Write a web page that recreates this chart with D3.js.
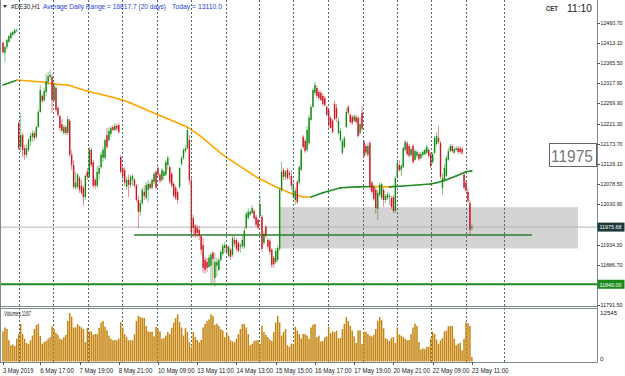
<!DOCTYPE html>
<html><head><meta charset="utf-8">
<script src="https://cdn.jsdelivr.net/npm/d3@7"></script>
<style>body{margin:0;background:#fff}svg{display:block}text{font-family:"Liberation Sans",Arial,sans-serif}</style>
</head><body><svg id="c" width="625" height="376"></svg>
<script>
// ---- data ----
const symbol = "#DE30,H1";
const adrText = "Average Daily Range = 16817.7 (20 days)";
const todayText = "Today = 13110.0";
const lastPrice = 11975.68;
const supportPrice = 11840.00;
const levelPrice = 11957;
const levelFromBar = 66.8, levelToBar = 269.6;
const zoneTop = 12023, zoneBottom = 11925, zoneFromBar = 141.2, zoneToBar = 293.1;
const boxLabel = "11975";
const priceTicks = [12460.70,12413.10,12365.50,12317.90,12269.90,12221.30,12173.70,12126.10,12078.50,12030.90,11981.80,11934.30,11886.70,11791.50];
const timeLabels = [["3 May 2019",0],["6 May 17:00",19],["7 May 19:00",39],["8 May 21:00",59],["10 May 09:00",79],["13 May 11:00",99],["14 May 13:00",119],["15 May 15:00",139],["16 May 17:00",159],["17 May 19:00",179],["20 May 21:00",199],["22 May 09:00",219],["23 May 11:00",239]];
const gridBars = [8.15,25.5,43.3,60.7,78.5,95.8,113.7,130.5,147.8,165.6,183.5,200.8,218.1,236,255.3];
const volMax = 12545, volNow = 1167;
const ohlc = [
[12413,12417,12386,12391],[12389,12405,12367,12403],[12403,12422,12398,12420],[12415,12432,12413,12429],[12424,12439,12422,12436],[12432,12441,12429,12439],[12436,12446,12434,12443],[12441,12448,12439,12443],
[12223,12225,12159,12163],[12166,12247,12154,12194],[12194,12199,12142,12159],[12163,12171,12135,12147],[12147,12171,12140,12163],[12159,12187,12154,12182],[12180,12199,12168,12192],[12190,12206,12178,12199],
[12199,12204,12180,12187],[12190,12216,12185,12213],[12213,12254,12211,12249],[12249,12313,12247,12301],[12287,12292,12270,12275],[12277,12306,12273,12299],[12296,12339,12287,12322],[12320,12344,12313,12334],
[12332,12349,12325,12337],[12332,12339,12247,12277],[12277,12320,12273,12311],[12306,12311,12249,12254],[12258,12263,12237,12242],[12239,12242,12204,12211],[12220,12232,12199,12204],[12199,12218,12194,12213],
[12213,12218,12194,12199],[12199,12239,12194,12232],[12228,12232,12142,12147],[12147,12159,12111,12123],[12123,12135,12066,12071],[12069,12107,12064,12081],[12071,12104,12066,12100],[12092,12097,12057,12064],
[12074,12088,12052,12057],[12069,12074,12026,12047],[12047,12102,12040,12097],[12107,12116,12088,12095],[12095,12166,12092,12159],[12159,12163,12118,12123],[12130,12135,12069,12074],[12088,12092,12066,12074],
[12074,12121,12069,12107],[12102,12123,12088,12116],[12118,12154,12114,12147],[12140,12166,12130,12159],[12140,12187,12135,12182],[12194,12211,12161,12166],[12182,12213,12178,12204],[12197,12216,12190,12211],
[12213,12218,12204,12206],[12206,12223,12204,12216],[12216,12220,12204,12209],[12218,12223,12197,12201],[12142,12147,12102,12107],[12116,12123,12088,12097],[12111,12118,12074,12081],[12071,12095,12064,12088],
[12088,12100,12047,12076],[12076,12100,12069,12095],[12088,12102,12074,12097],[12088,12092,12069,12074],[12074,12078,12035,12040],[12040,12050,11974,12012],[12012,12040,12002,12033],[12033,12069,12028,12064],
[12059,12074,12040,12050],[12045,12083,12040,12076],[12064,12088,12035,12078],[12078,12083,12064,12069],[12069,12092,12064,12088],[12083,12107,12078,12102],[12107,12111,12064,12069],[12116,12121,12097,12100],
[12100,12104,12081,12085],[12088,12116,12083,12111],[12097,12111,12088,12107],[12100,12135,12097,12130],[12123,12145,12111,12140],[12118,12123,12078,12083],[12102,12107,12069,12074],[12078,12083,12045,12050],
[12069,12074,12040,12045],[12059,12064,12031,12040],[12071,12118,12066,12116],[12126,12145,12121,12140],[12140,12163,12135,12159],[12156,12171,12152,12163],[12163,12213,12159,12206],[12182,12194,12076,12088],
[12088,12092,11952,11964],[11997,12005,11952,11974],[11979,11983,11950,11957],[11974,11981,11952,11962],[11969,11979,11945,11955],[11955,11957,11910,11922],[11933,11950,11867,11879],[11898,11905,11865,11874],
[11893,11903,11869,11879],[11881,11910,11879,11903],[11884,11915,11843,11910],[11915,11919,11843,11900],[11855,11915,11834,11893],[11884,11903,11858,11893],[11874,11903,11872,11898],[11898,11922,11893,11917],
[11912,11936,11907,11931],[11926,11941,11915,11933],[11931,11933,11912,11917],[11907,11933,11903,11929],[11922,11926,11898,11905],[11910,11957,11905,11950],[11945,11955,11929,11936],[11945,11950,11919,11924],
[11938,11943,11915,11919],[11929,11938,11915,11933],[11931,11955,11924,11945],[11929,11974,11924,11967],[11974,12012,11971,12007],[11997,12021,11993,12012],[12005,12016,12002,12012],[12009,12028,12007,12021],
[12014,12019,11993,11997],[12000,12005,11976,11981],[11993,11997,11969,11974],[12002,12052,11997,12031],[12000,12005,11917,11924],[11938,11967,11933,11960],[11976,11981,11950,11955],[11945,11950,11922,11929],
[11943,11948,11910,11917],[11922,11926,11879,11886],[11903,11907,11879,11888],[11893,11926,11888,11919],[11898,11933,11893,11926],[11924,12069,11919,12064],[12064,12130,12059,12107],[12111,12116,12088,12095],
[12095,12111,12088,12107],[12111,12116,12088,12092],[12104,12109,12088,12100],[12097,12111,12064,12074],[12047,12083,12043,12078],[12040,12069,12028,12062],[12083,12088,12031,12035],[12081,12123,12076,12118],
[12111,12163,12109,12159],[12190,12194,12161,12166],[12180,12185,12152,12156],[12159,12216,12154,12206],[12175,12242,12171,12235],[12230,12265,12228,12261],[12261,12306,12258,12301],[12294,12320,12289,12313],
[12306,12311,12282,12287],[12296,12301,12277,12282],[12294,12299,12275,12277],[12287,12292,12263,12268],[12282,12287,12263,12265],[12261,12265,12239,12242],[12254,12258,12211,12216],[12235,12239,12209,12211],
[12228,12232,12197,12201],[12268,12275,12228,12232],[12258,12268,12225,12235],[12199,12235,12194,12228],[12182,12211,12178,12204],[12152,12185,12147,12180],[12166,12192,12163,12187],[12213,12258,12211,12249],
[12261,12265,12242,12247],[12242,12247,12220,12225],[12237,12242,12218,12223],[12228,12244,12225,12239],[12237,12242,12220,12225],[12235,12239,12187,12192],[12199,12235,12194,12220],[12247,12263,12204,12209],
[12178,12182,12140,12145],[12168,12173,12145,12152],[12147,12175,12142,12168],[12175,12180,12064,12074],[12081,12085,12054,12059],[12071,12076,12038,12043],[12064,12071,12007,12021],[12019,12064,11993,12057],
[12052,12083,12047,12076],[12045,12081,12040,12078],[12064,12069,12024,12040],[12040,12054,12033,12050],[12045,12059,12040,12054],[12047,12057,12028,12050],[12045,12050,12019,12024],[12047,12052,12009,12014],
[12014,12097,12009,12092],[12095,12133,12090,12128],[12123,12135,12107,12111],[12111,12126,12097,12121],[12118,12168,12116,12163],[12159,12182,12156,12178],[12175,12180,12145,12149],[12168,12173,12140,12145],
[12147,12166,12142,12161],[12168,12173,12126,12130],[12135,12161,12133,12156],[12145,12159,12140,12154],[12149,12154,12133,12137],[12140,12154,12135,12149],[12147,12159,12142,12154],[12149,12163,12145,12159],
[12152,12171,12149,12166],[12159,12163,12140,12145],[12149,12154,12116,12121],[12130,12154,12126,12149],[12152,12192,12149,12187],[12173,12201,12168,12192],[12187,12216,12173,12178],[12175,12180,12090,12095],
[12069,12102,12052,12092],[12088,12126,12083,12116],[12097,12145,12095,12140],[12135,12163,12133,12156],[12156,12173,12154,12168],[12168,12173,12152,12156],[12152,12166,12149,12161],[12159,12168,12156,12163],
[12163,12168,12149,12154],[12163,12168,12149,12154],[12161,12166,12147,12152],[12100,12107,12064,12069],[12081,12085,12057,12062],[12059,12069,12033,12038],[12033,12040,11955,11969],[11974,11983,11967,11975.68]
];
const volumes = [
7800,8800,8400,5500,4200,4400,4000,5900,7100,9700,7100,5900,4800,4600,5500,6700,
8400,9400,9700,6600,4600,5000,5300,5900,6300,9100,8400,7400,6900,5900,5700,6300,
6900,10500,12545,11600,8800,8800,9700,9200,8800,8400,5000,8700,7800,7800,6900,7100,
7100,8700,10100,10500,9000,8100,6700,5900,5500,5600,5500,5900,10200,8800,7100,6300,
5500,5500,5500,7000,10500,11800,11500,11300,11300,9200,7800,7700,7700,6500,9000,8400,
7800,5900,6000,6700,7600,7100,8700,10100,11200,12200,10200,8800,6700,8600,7600,5000,
3800,7600,6300,5600,5000,5600,8800,9700,10500,10900,12200,11800,9500,9800,9200,8400,
8000,6300,7600,6700,5500,5200,5000,5900,7100,8400,9700,9700,8800,7100,4200,4600,
5300,5500,5500,4600,9200,7600,6900,6300,5700,5300,7600,10100,11800,10100,6700,7600,
8400,4200,3800,4600,4600,9000,8000,7100,6000,7100,7100,6700,5900,8800,9500,9700,6300,
6700,5200,5300,6300,6500,9000,7300,7800,7600,8000,6000,6100,8400,9700,11500,10500,9200,8000,
6500,4800,8000,8100,4500,7700,7700,7100,6700,6500,6900,8400,10500,11500,10700,8600,6000,5700,
5300,6100,6300,4800,8800,7000,6700,6300,5900,5500,5600,7100,8800,9800,9200,5000,3100,3400,
3200,3800,3800,6000,7700,7100,5700,4600,5500,6100,7800,8000,9100,9200,9200,5900,4200,4600,
4800,2900,5900,10100,9900,9200,1167
];
const maBars = [0,7,9,20,26,33,43,55,61,65,79,94,100,112,130,140,146,153,157,163,172,181,189,197,204,218,221,226,231,236,239];
const maValues = [12313,12324,12324,12320,12315,12313,12298,12285,12277,12270,12242,12213,12194,12147,12092,12069,12057,12047,12047,12057,12069,12071,12072,12071,12073,12078,12081,12088,12097,12107,12109];

// ---- scales ----
const svg = d3.select("#c");
const plotR = 597;
const x = d3.scaleLinear().domain([0, 239]).range([3, 471.9]);
const y = d3.scaleLinear().domain([11791.5, 12460.7]).range([304.7, 22.7]);
const yv = d3.scaleLinear().domain([0, volMax]).range([361.5, 313]);
const bull = "#118c11", bear = "#cc1520";

svg.append("rect").attr("width", 625).attr("height", 376).attr("fill", "#fff");
svg.append("clipPath").attr("id", "main").append("rect").attr("x", 0).attr("y", 0).attr("width", plotR).attr("height", 306);
const main = svg.append("g").attr("clip-path", "url(#main)");

// zone rectangle
main.append("rect").attr("x", x(zoneFromBar)).attr("width", x(zoneToBar) - x(zoneFromBar))
  .attr("y", y(zoneTop)).attr("height", y(zoneBottom) - y(zoneTop)).attr("fill", "#d3d3d3");

// grid (vertical dashed)
svg.append("g").selectAll("line").data(gridBars).join("line")
  .attr("x1", d => Math.round(x(d)) + 0.5).attr("x2", d => Math.round(x(d)) + 0.5)
  .attr("y1", 0).attr("y2", 362).attr("stroke", "#4d6b6b").attr("stroke-width", 1).attr("stroke-dasharray", "2,2");

// horizontal lines
main.append("line").attr("x1", 0).attr("x2", plotR).attr("y1", y(lastPrice)).attr("y2", y(lastPrice)).attr("stroke", "#b0b0b0").attr("stroke-width", 1);
main.append("line").attr("x1", 0).attr("x2", plotR).attr("y1", y(supportPrice)).attr("y2", y(supportPrice)).attr("stroke", "#1e8c1e").attr("stroke-width", 2);
main.append("line").attr("x1", x(levelFromBar)).attr("x2", x(levelToBar)).attr("y1", y(levelPrice)).attr("y2", y(levelPrice)).attr("stroke", "#2b7d2b").attr("stroke-width", 1.6);

// moving average
const maPts = maBars.map((b, i) => [b, maValues[i]]);
for (let i = 1; i < maPts.length; i++) {
  const a = maPts[i - 1], b = maPts[i];
  main.append("line").attr("x1", x(a[0])).attr("y1", y(a[1])).attr("x2", x(b[0])).attr("y2", y(b[1]))
    .attr("stroke", b[1] > a[1] ? "#1f8a1f" : "#ffa500").attr("stroke-width", 1.6).attr("stroke-linecap", "round");
}

// candles
const cg = main.append("g");
ohlc.forEach((d, i) => {
  const [o, h, l, c] = d;
  const col = c >= o ? bull : bear;
  cg.append("line").attr("x1", x(i)).attr("x2", x(i)).attr("y1", y(h)).attr("y2", y(l))
    .attr("stroke", col).attr("stroke-width", 0.9).attr("opacity", 0.55);
  const top = y(Math.max(o, c)), bot = y(Math.min(o, c));
  cg.append("rect").attr("x", x(i) - 0.7).attr("width", 1.4).attr("y", top).attr("height", Math.max(0.9, bot - top)).attr("fill", col);
});

// volumes
svg.append("g").selectAll("rect").data(volumes).join("rect")
  .attr("x", (d, i) => x(i) - 0.75).attr("width", 1.5)
  .attr("y", d => yv(d)).attr("height", d => yv(0) - yv(d)).attr("fill", "#c5840f");

// frames
const frame = svg.append("g").attr("stroke", "#7f8c8c").attr("stroke-width", 1);
frame.append("line").attr("x1", 0.5).attr("x2", 0.5).attr("y1", 0).attr("y2", 362.5);
frame.append("line").attr("x1", plotR + 0.5).attr("x2", plotR + 0.5).attr("y1", 0).attr("y2", 362.5);
frame.append("line").attr("x1", 0).attr("x2", plotR).attr("y1", 306.5).attr("y2", 306.5);
frame.append("line").attr("x1", 0).attr("x2", plotR).attr("y1", 308.5).attr("y2", 308.5);
frame.append("line").attr("x1", 0).attr("x2", plotR).attr("y1", 362.5).attr("y2", 362.5);

// price axis
const pa = svg.append("g");
priceTicks.forEach(p => {
  pa.append("line").attr("x1", plotR).attr("x2", plotR + 3).attr("y1", Math.round(y(p)) + 0.5).attr("y2", Math.round(y(p)) + 0.5).attr("stroke", "#555");
  pa.append("text").attr("x", 600.5).attr("y", y(p) + 2.2).attr("font-size", 6.2).attr("fill", "#222")
    .attr("textLength", 22).attr("lengthAdjust", "spacingAndGlyphs").text(p.toFixed(2));
});
// price tags
function tag(p, bg) {
  pa.append("rect").attr("x", plotR + 0.5).attr("y", y(p) - 4.5).attr("width", 27).attr("height", 9).attr("fill", bg);
  pa.append("text").attr("x", 599.5).attr("y", y(p) + 2.3).attr("font-size", 6.2).attr("fill", "#fff")
    .attr("textLength", 22).attr("lengthAdjust", "spacingAndGlyphs").text(p.toFixed(2));
}
tag(lastPrice, "#1d3838");
tag(supportPrice, "#1b8a1b");

// volume axis
pa.append("text").attr("x", 600).attr("y", 315).attr("font-size", 6.2).attr("fill", "#222").text(volMax);
pa.append("text").attr("x", 600).attr("y", 361).attr("font-size", 6.2).attr("fill", "#222").text("0");
svg.append("text").attr("x", 4).attr("y", 316).attr("font-size", 6.5).attr("fill", "#222")
  .attr("textLength", 27).attr("lengthAdjust", "spacingAndGlyphs").text("Volumes " + volNow);

// time axis
const ta = svg.append("g");
timeLabels.forEach(([t, b]) => {
  ta.append("line").attr("x1", Math.round(x(b)) + 0.5).attr("x2", Math.round(x(b)) + 0.5).attr("y1", 362).attr("y2", 365).attr("stroke", "#555");
  ta.append("text").attr("x", Math.max(1, x(b))).attr("y", 372.5).attr("font-size", 6.6).attr("fill", "#222")
    .attr("textLength", t.length * 3.05).attr("lengthAdjust", "spacingAndGlyphs").text(t);
});

// header
svg.append("path").attr("d", "M3,5 L7,5 L5,8 Z").attr("fill", "#333");
svg.append("text").attr("x", 11).attr("y", 9).attr("font-size", 6.6).attr("fill", "#222")
  .attr("textLength", 29).attr("lengthAdjust", "spacingAndGlyphs").text(symbol);
svg.append("text").attr("x", 43).attr("y", 9).attr("font-size", 6.8).attr("fill", "#2a44d6")
  .attr("textLength", 123).attr("lengthAdjust", "spacingAndGlyphs").text(adrText);
svg.append("text").attr("x", 172).attr("y", 9).attr("font-size", 6.8).attr("fill", "#2a44d6")
  .attr("textLength", 50).attr("lengthAdjust", "spacingAndGlyphs").text(todayText);
svg.append("text").attr("x", 546).attr("y", 11).attr("font-size", 6.5).attr("font-weight", "bold").attr("fill", "#333")
  .attr("textLength", 12).attr("lengthAdjust", "spacingAndGlyphs").text("CET");
svg.append("text").attr("x", 567).attr("y", 12).attr("font-size", 10.5).attr("fill", "#222")
  .attr("textLength", 25).attr("lengthAdjust", "spacingAndGlyphs").text("11:10");

// big price box
svg.append("rect").attr("x", 549.5).attr("y", 143.5).attr("width", 47).attr("height", 23).attr("fill", "#fff").attr("stroke", "#666");
svg.append("text").attr("x", 551).attr("y", 162).attr("font-size", 17).attr("fill", "#777")
  .attr("font-family", "Liberation Serif, serif")
  .attr("textLength", 42).attr("lengthAdjust", "spacingAndGlyphs").text(boxLabel);
</script>
</body></html>
